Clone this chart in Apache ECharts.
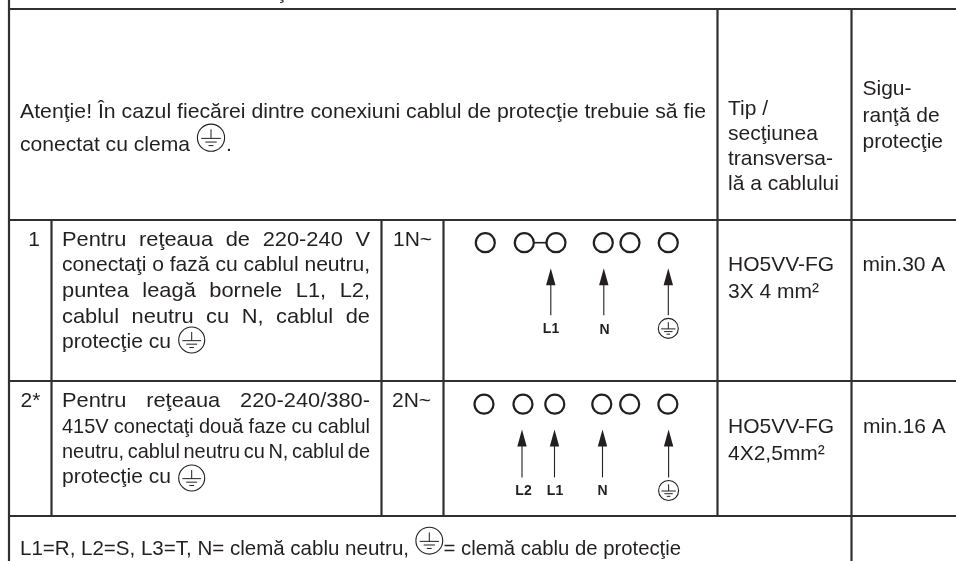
<!DOCTYPE html>
<html lang="ro" style="height: 100%">
<head>
  <meta charset="utf-8">
</head>
<body style="height: 100%; margin: 0; background: #fff">
  <div id="container" style="height: 100%"></div>
  <script type="text/javascript" src="https://cdn.jsdelivr.net/npm/echarts@6/dist/echarts.min.js"></script>
  <script type="text/javascript">
    // table content
    var noticeLines = ['Atenţie! În cazul fiecărei dintre conexiuni cablul de protecţie trebuie să fie', 'conectat cu clema', '.'];
    var cableHeader = ['Tip /', 'secţiunea', 'transversa-', 'lă a cablului'];
    var fuseHeader = ['Sigu-', 'ranţă de', 'protecţie'];
    var row1Text = ['Pentru reţeaua de 220-240 V', 'conectaţi o fază cu cablul neutru,', 'puntea leagă bornele L1, L2,', 'cablul neutru cu N, cablul de', 'protecţie cu'];
    var row2Text = ['Pentru reţeaua 220-240/380-', '415V conectaţi două faze cu cablul', 'neutru, cablul neutru cu N, cablul de', 'protecţie cu'];
    var rowNumbers = ['1', '2*'];
    var rowTypes = ['1N~', '2N~'];
    var rowCables = [['HO5VV-FG', '3X 4 mm²'], ['HO5VV-FG', '4X2,5mm²']];
    var rowFuses = ['min.30 A', 'min.16 A'];
    var legendText = ['L1=R, L2=S, L3=T, N= clemă cablu neutru,', '= clemă cablu de protecţie'];
    var row1Arrows = ['L1', 'N'];
    var row2Arrows = ['L2', 'L1', 'N'];

    var INK = '#231f20';
    var RULE = '#303030';
    var FONT = '"Liberation Sans", Arial, sans-serif';
    var FS = 21;

    var measure = document.createElement('canvas').getContext('2d');
    function textWidth(t, font) {
      measure.font = font;
      return measure.measureText(t).width;
    }

    // [text, x, baseline, fit width (optional), align, size, weight]
    var texts = [
      [noticeLines[0], 20, 118, 686],
      [noticeLines[1], 20, 151.5, 170],
      [noticeLines[2], 226, 151.5],
      [cableHeader[0], 728, 115],
      [cableHeader[1], 728, 140],
      [cableHeader[2], 728, 165],
      [cableHeader[3], 728, 190.5],
      [fuseHeader[0], 862.5, 95],
      [fuseHeader[1], 862.5, 122],
      [fuseHeader[2], 862.5, 148],
      [rowNumbers[0], 34, 246.5, null, 'center'],
      [rowNumbers[1], 20.5, 407.5],
      [rowTypes[0], 393, 246.5],
      [rowTypes[1], 392, 407.5],
      [row1Text[0], 62, 246.5, 308],
      [row1Text[1], 62, 271, 308],
      [row1Text[2], 62, 297, 308],
      [row1Text[3], 62, 323, 308],
      [row1Text[4], 62, 348, 109],
      [row2Text[0], 62, 407.5, 308],
      [row2Text[1], 62, 433, 308],
      [row2Text[2], 62, 458, 308],
      [row2Text[3], 62, 483, 109],
      [rowCables[0][0], 728, 271.5],
      [rowCables[0][1], 728, 298.5],
      [rowCables[1][0], 728, 433.5],
      [rowCables[1][1], 728, 460],
      [rowFuses[0], 862.5, 271.5],
      [rowFuses[1], 863, 433.5],
      [legendText[0], 20, 555, 389],
      [legendText[1], 443.5, 555, 237.5],
      ['ţ', 278, -1],
      [row1Arrows[0], 551, 333.5, null, 'center', 14, 'bold'],
      [row1Arrows[1], 604.5, 334, null, 'center', 14, 'bold'],
      [row2Arrows[0], 523.5, 495, null, 'center', 14, 'bold'],
      [row2Arrows[1], 555, 495, null, 'center', 14, 'bold'],
      [row2Arrows[2], 602.5, 495.5, null, 'center', 14, 'bold']
    ];

    // table rules as x0, y0, x1, y1
    var rules = [
      [8, 9, 956, 9], [9, 220, 956, 220], [9, 381, 956, 381], [9, 516, 956, 516],
      [9, 0, 9, 561], [51.5, 220, 51.5, 516], [381.5, 220, 381.5, 516], [443.5, 220, 443.5, 516],
      [717.5, 9, 717.5, 516], [851.5, 9, 851.5, 561]
    ];
    var terminals = [
      [485.3, 242.7], [524.3, 242.7], [556, 242.7], [603.3, 242.7], [630, 242.7], [668.3, 242.7],
      [484, 404.2], [523, 404.2], [554.8, 404.2], [601.8, 404.2], [629.7, 404.2], [667.9, 404.2]
    ];
    var bridge = [[534, 242.7, 546, 242.7]];
    // x, tip y, tail y
    var arrows = [
      [550.8, 268.3, 315.3], [603.8, 268.3, 315.3], [668.3, 268.3, 315.3],
      [522, 429.4, 477.4], [554.5, 429.4, 477.4], [602.5, 429.4, 477.4], [668.6, 429.4, 477.4]
    ];
    // x, y, radius
    var earths = [
      [211, 137.7, 13.6], [191.7, 340, 13], [191.7, 478, 13], [429.3, 540.7, 13.4],
      [668.3, 328.4, 10], [668.6, 490.5, 10]
    ];

    function textParts(item, api) {
      var size = item[5] || FS;
      var font = (item[6] || 'normal') + ' ' + size + 'px ' + FONT;
      var p = api.coord([item[1], item[2]]);
      var mk = function (t, x, sx, align) {
        return {
          type: 'text', x: x, y: p[1] - size * 0.28, scaleX: sx,
          style: { text: t, x: 0, y: 0, font: font, fill: INK, align: align || 'left', verticalAlign: 'middle' }
        };
      };
      if (!item[3]) return [mk(item[0], p[0], 1, item[4])];
      var fit = item[3];
      var natural = textWidth(item[0], font);
      var words = item[0].split(' ');
      // justified lines: keep the glyphs close to natural, the rest goes in the gaps
      var wide = Math.min(Math.max(fit / natural, 0.95), 1.04);
      if (words.length === 1) return [mk(item[0], p[0], fit / natural)];
      var total = 0;
      var widths = words.map(function (w) {
        var ww = textWidth(w, font) * wide;
        total += ww;
        return ww;
      });
      var gap = (fit - total) / (words.length - 1);
      var cx = p[0];
      return words.map(function (w, i) {
        var el = mk(w, cx, wide);
        cx += widths[i] + gap;
        return el;
      });
    }

    var dom = document.getElementById('container');
    var myChart = echarts.init(dom, null, { renderer: 'canvas' });

    var option = {
      backgroundColor: '#ffffff',
      animation: false,
      grid: { left: 0, right: 0, top: 0, bottom: 0 },
      xAxis: { type: 'value', min: 0, max: 956, show: false },
      yAxis: { type: 'value', min: 0, max: 561, inverse: true, show: false },
      series: [
        {
          type: 'custom',
          silent: true,
          clip: false,
          data: rules,
          renderItem: function (params, api) {
            var a = api.coord([api.value(0), api.value(1)]);
            var b = api.coord([api.value(2), api.value(3)]);
            return { type: 'line', shape: { x1: a[0], y1: a[1], x2: b[0], y2: b[1] }, style: { stroke: RULE, lineWidth: 2.2 } };
          }
        },
        {
          type: 'custom',
          silent: true,
          data: bridge,
          renderItem: function (params, api) {
            var a = api.coord([api.value(0), api.value(1)]);
            var b = api.coord([api.value(2), api.value(3)]);
            return { type: 'line', shape: { x1: a[0], y1: a[1], x2: b[0], y2: b[1] }, style: { stroke: INK, lineWidth: 1.6 } };
          }
        },
        {
          type: 'scatter',
          silent: true,
          symbol: 'circle',
          symbolSize: 19,
          itemStyle: { color: '#fff', borderColor: INK, borderWidth: 2.2, opacity: 1 },
          data: terminals
        },
        {
          type: 'custom',
          silent: true,
          data: arrows,
          renderItem: function (params, api) {
            var x = api.coord([api.value(0), 0])[0];
            var tip = api.coord([0, api.value(1)])[1];
            var tail = api.coord([0, api.value(2)])[1];
            return {
              type: 'group',
              children: [
                { type: 'line', shape: { x1: x, y1: tip + 10, x2: x, y2: tail }, style: { stroke: INK, lineWidth: 1.1 } },
                { type: 'polygon', shape: { points: [[x, tip], [x + 4.7, tip + 17], [x - 4.7, tip + 17]] }, style: { fill: INK } }
              ]
            };
          }
        },
        {
          type: 'custom',
          silent: true,
          data: earths,
          renderItem: function (params, api) {
            var c = api.coord([api.value(0), api.value(1)]);
            var r = api.value(2);
            var seg = function (x1, y1, x2, y2) {
              return {
                type: 'line',
                shape: { x1: c[0] + x1 * r, y1: c[1] + y1 * r, x2: c[0] + x2 * r, y2: c[1] + y2 * r },
                style: { stroke: INK, lineWidth: 1 }
              };
            };
            return {
              type: 'group',
              children: [
                { type: 'circle', shape: { cx: c[0], cy: c[1], r: r }, style: { fill: 'none', stroke: INK, lineWidth: 1.1 } },
                seg(0, -0.62, 0, 0.05),
                seg(-0.72, 0.05, 0.72, 0.05),
                seg(-0.42, 0.32, 0.42, 0.32),
                seg(-0.18, 0.58, 0.18, 0.58)
              ]
            };
          }
        },
        {
          type: 'custom',
          silent: true,
          clip: false,
          data: texts.map(function (t, i) { return [t[1], t[2], i]; }),
          renderItem: function (params, api) {
            return { type: 'group', children: textParts(texts[api.value(2)], api) };
          }
        }
      ]
    };

    myChart.setOption(option);
    window.addEventListener('resize', myChart.resize);
  </script>
</body>
</html>
